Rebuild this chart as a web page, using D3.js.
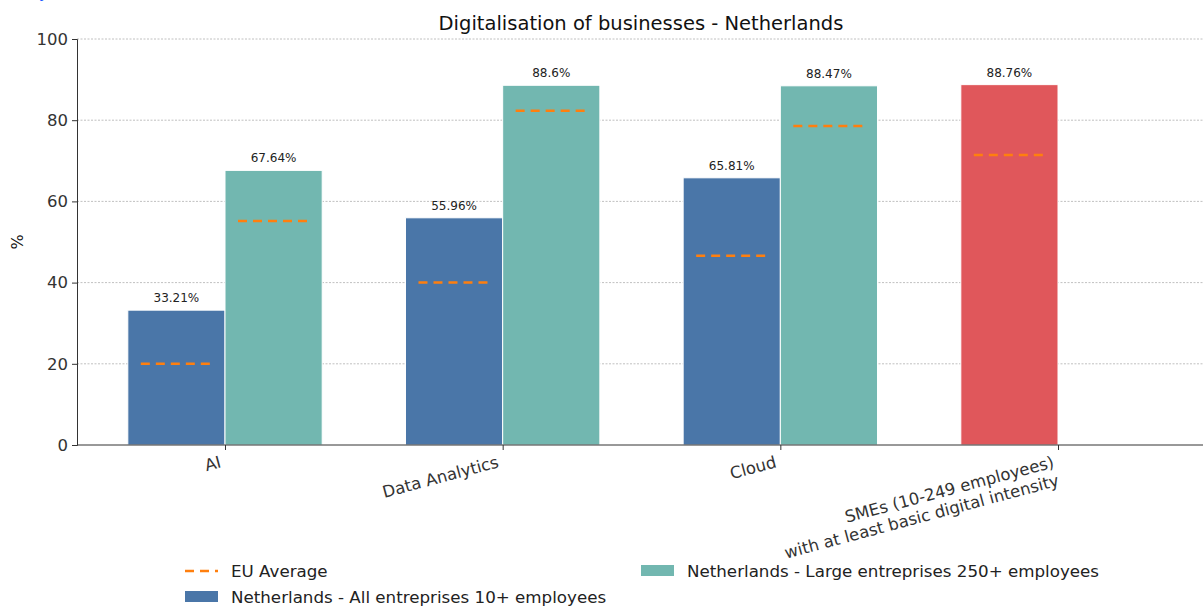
<!DOCTYPE html>
<html>
<head>
<meta charset="utf-8">
<script src="https://cdn.jsdelivr.net/npm/d3@7"></script>
<style>
  body { margin: 0; background: #fff; }
  svg { font-family: "DejaVu Sans", sans-serif; display: block; }
</style>
</head>
<body>
<svg id="chart" width="1203" height="608"></svg>
<script>
// data
const categories = ["AI", "Data Analytics", "Cloud", "SMEs (10-249 employees)\nwith at least basic digital intensity"];
const allEntreprises = [33.21, 55.96, 65.81, null];
const largeEntreprises = [67.64, 88.6, 88.47, null];
const smeValue = [null, null, null, 88.76];
const euAllAvg = [20, 40, 46.6, null];
const euLargeAvg = [55.2, 82.3, 78.6, null];
const euSmeAvg = [null, null, null, 71.4];
const yTicks = [0, 20, 40, 60, 80, 100];

const colors = { all: "#4a76a8", large: "#72b7b0", sme: "#e0575b", eu: "#ff7f0e" };

const svg = d3.select("#chart");
const plotLeft = 77, plotRight = 1203, plotTop = 39, plotBottom = 445;
const barW = 0.35;

const x = d3.scaleLinear().domain([0, 3]).range([225, 1058]);
const xAxisScale = d3.scaleLinear().domain([x.invert(plotLeft), x.invert(plotRight)]).range([plotLeft, plotRight]);
const y = d3.scaleLinear().domain([0, 100]).range([plotBottom, plotTop]);

const translate = (a, b) => `translate(${a}, ${b})`;

// stray blue glyph cut at the top (as in the source screenshot)
svg.append("text").attr("x", 39).attr("y", -2).attr("fill", "#1a5cff")
  .attr("font-size", 16).text("y");

// title
svg.append("text").attr("x", 641).attr("y", 30).attr("text-anchor", "middle")
  .attr("font-size", 19.5).attr("fill", "#111").text("Digitalisation of businesses - Netherlands");

// grid
svg.append("g").selectAll("line").data(yTicks.filter(t => t > 0)).join("line")
  .attr("x1", plotLeft).attr("x2", plotRight)
  .attr("y1", d => y(d)).attr("y2", d => y(d))
  .attr("stroke", "#b0b0b0").attr("stroke-width", 0.8).attr("stroke-dasharray", "2,1.5");

// bars
const bars = svg.append("g");
function drawBars(values, offset, color) {
  const rows = values.map((v, i) => ({ v, i })).filter(d => d.v !== null);
  bars.selectAll(null).data(rows).join("rect")
    .attr("x", d => x(d.i + offset))
    .attr("y", d => y(d.v))
    .attr("width", x(barW) - x(0))
    .attr("height", d => y(0) - y(d.v))
    .attr("fill", color).attr("stroke", "#fff").attr("stroke-width", 1);
  bars.selectAll(null).data(rows).join("text")
    .attr("x", d => x(d.i + offset + barW / 2))
    .attr("y", d => y(d.v) - 8)
    .attr("text-anchor", "middle").attr("font-size", 12).attr("fill", "#222")
    .text(d => d.v + "%");
}
drawBars(allEntreprises, -barW, colors.all);
drawBars(largeEntreprises, 0, colors.large);
drawBars(smeValue, -barW, colors.sme);

// EU averages
function drawAvg(values, offset) {
  svg.append("g").selectAll("line").data(values.map((v, i) => ({ v, i })).filter(d => d.v !== null)).join("line")
    .attr("x1", d => x(d.i + offset) + 13)
    .attr("x2", d => x(d.i + offset + barW) - 13)
    .attr("y1", d => y(d.v)).attr("y2", d => y(d.v))
    .attr("stroke", colors.eu).attr("stroke-width", 2.5).attr("stroke-dasharray", "9,6");
}
drawAvg(euAllAvg, -barW);
drawAvg(euLargeAvg, 0);
drawAvg(euSmeAvg, -barW);

// y axis
const yAxis = svg.append("g").attr("transform", translate(plotLeft, 0))
  .call(d3.axisLeft(y).tickValues(yTicks).tickSize(5).tickPadding(4));
yAxis.select(".domain").attr("stroke", "#333");
yAxis.selectAll(".tick line").attr("stroke", "#333");
yAxis.selectAll(".tick text").attr("font-size", 16.5).attr("fill", "#333").attr("font-family", "DejaVu Sans");

svg.append("text").attr("transform", translate(23, 242) + " rotate(-90)")
  .attr("text-anchor", "middle").attr("font-size", 16).attr("fill", "#111").text("%");

// x axis
const xAxis = svg.append("g").attr("transform", translate(0, plotBottom))
  .call(d3.axisBottom(xAxisScale).tickValues([0, 1, 2, 3]).tickFormat("").tickSize(5));
xAxis.select(".domain").attr("stroke", "#333").attr("d", `M${plotLeft},0H${plotRight}`);
xAxis.selectAll(".tick line").attr("stroke", "#333");

const xLabels = svg.append("g");
categories.forEach((c, i) => {
  const t = xLabels.append("text")
    .attr("transform", translate(x(i) - 3, plotBottom + 22) + " rotate(-15)")
    .attr("text-anchor", "end").attr("font-size", 16.5).attr("fill", "#333");
  c.split("\n").forEach((line, k) => {
    t.append("tspan").attr("x", 0).attr("dy", k === 0 ? 0 : 19).text(line);
  });
});

// legend
const legendItems = [
  { label: "EU Average", type: "line", color: colors.eu, lx: 185, ly: 571 },
  { label: "Netherlands - All entreprises 10+ employees", type: "patch", color: colors.all, lx: 185, ly: 597 },
  { label: "Netherlands - Large entreprises 250+ employees", type: "patch", color: colors.large, lx: 641, ly: 571 }
];
const legend = svg.append("g");
legendItems.forEach(d => {
  const g = legend.append("g").attr("transform", translate(d.lx, d.ly));
  if (d.type === "line") {
    g.append("line").attr("x1", 0).attr("x2", 33).attr("y1", 0).attr("y2", 0)
      .attr("stroke", d.color).attr("stroke-width", 2.5).attr("stroke-dasharray", "9,6");
  } else {
    g.append("rect").attr("x", 0).attr("y", -6).attr("width", 33).attr("height", 11).attr("fill", d.color);
  }
  g.append("text").attr("x", 46).attr("y", 6).attr("font-size", 16.7).attr("fill", "#222").text(d.label);
});
</script>
</body>
</html>
